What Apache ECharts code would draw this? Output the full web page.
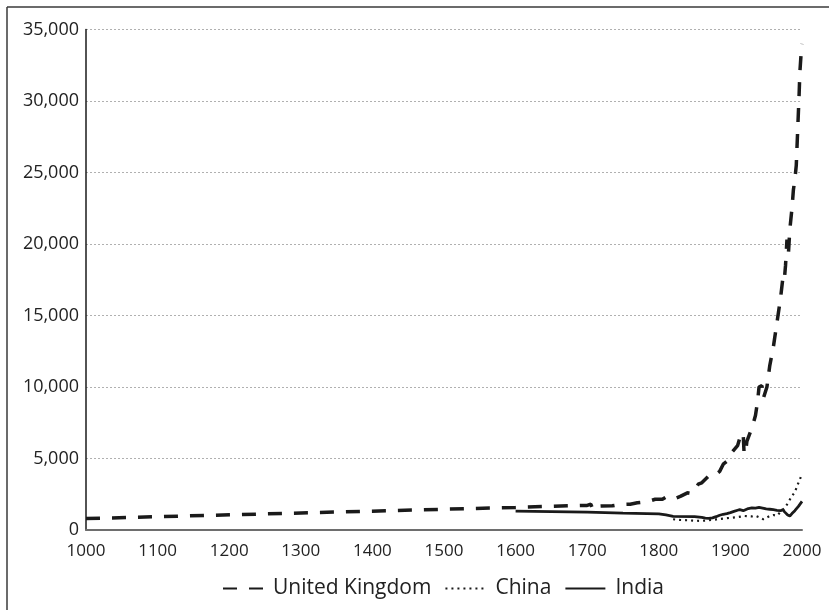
<!DOCTYPE html>
<html>
<head>
<meta charset="utf-8">
<script src="https://cdn.jsdelivr.net/npm/echarts@6/dist/echarts.min.js"></script>
<style>
html,body{margin:0;padding:0;background:#fff;}
#chart{width:829px;height:610px;}
</style>
</head>
<body>
<div id="chart"></div>
<script>
// ---- data ----
var seriesNames = ['United Kingdom', 'China', 'India'];
var yTicks = [0, 5000, 10000, 15000, 20000, 25000, 30000, 35000];

var ukYears = [1000, 1500, 1600, 1690, 1700, 1705, 1708, 1710, 1720, 1735, 1745, 1760, 1770, 1785, 1795, 1805, 1810, 1815, 1820, 1825, 1830, 1840, 1845, 1850, 1855, 1860, 1865, 1870, 1875, 1880, 1885, 1890, 1895, 1900, 1905, 1910, 1913, 1915, 1918, 1919, 1921, 1923, 1926, 1929, 1931, 1935, 1938, 1940, 1944, 1946, 1948, 1951, 1955, 1960, 1965, 1970, 1973, 1975, 1977, 1979, 1980, 1981, 1983, 1986, 1988, 1990, 1992, 1994, 1996, 1997, 1999, 2000];
var ukValues = [800, 1450, 1580, 1720, 1720, 1800, 1450, 1650, 1680, 1690, 1780, 1800, 1900, 1990, 2150, 2150, 2300, 2200, 2150, 2250, 2350, 2600, 2550, 2750, 3200, 3300, 3550, 3800, 3950, 3900, 4100, 4600, 4800, 5300, 5600, 5900, 6400, 6800, 6600, 5500, 5300, 6200, 6600, 7000, 7300, 8000, 9000, 10000, 10100, 9200, 9300, 10000, 11500, 12800, 14500, 16200, 17500, 17300, 18500, 20300, 19500, 19300, 21000, 22500, 23800, 24500, 25500, 28000, 30500, 32000, 33500, 34000];

var chinaYears = [1820, 1830, 1840, 1850, 1860, 1870, 1880, 1890, 1900, 1910, 1920, 1930, 1935, 1940, 1946, 1950, 1955, 1960, 1965, 1970, 1975, 1980, 1985, 1990, 1995, 2000];
var chinaValues = [750, 700, 680, 650, 640, 680, 740, 800, 850, 900, 980, 950, 1000, 900, 750, 850, 980, 1050, 1000, 1250, 1500, 1850, 2300, 2650, 3300, 3900];

var indiaYears = [1600, 1700, 1750, 1800, 1810, 1820, 1850, 1860, 1865, 1870, 1875, 1880, 1885, 1890, 1895, 1900, 1905, 1910, 1913, 1918, 1920, 1925, 1930, 1935, 1940, 1945, 1950, 1955, 1960, 1965, 1970, 1973, 1976, 1980, 1983, 1986, 1990, 1995, 2000];
var indiaValues = [1320, 1250, 1180, 1130, 1050, 950, 930, 880, 830, 820, 850, 930, 1030, 1100, 1150, 1220, 1300, 1380, 1420, 1350, 1420, 1500, 1550, 1530, 1580, 1530, 1480, 1450, 1420, 1380, 1350, 1420, 1250, 1050, 980, 1150, 1350, 1650, 2000];

function pairs(xs, ys) {
  var out = [];
  for (var i = 0; i < xs.length; i++) out.push([xs[i], ys[i]]);
  return out;
}

var FONT = '"Open Sans", "Noto Sans", sans-serif';
var chart = echarts.init(document.getElementById('chart'), null, {renderer: 'canvas'});
chart.setOption({
  animation: false,
  backgroundColor: '#ffffff',
  graphic: [
    {type: 'line', silent: true, shape: {x1: 7, y1: 7, x2: 829, y2: 7}, style: {stroke: '#3a3a3a', lineWidth: 1.5}},
    {type: 'line', silent: true, shape: {x1: 7, y1: 7, x2: 7, y2: 610}, style: {stroke: '#3a3a3a', lineWidth: 1.5}}
  ],
  grid: {left: 86, right: 27, top: 29.5, bottom: 80, containLabel: false},
  legend: {
    data: seriesNames,
    top: 573,
    left: 217,
    itemWidth: 40,
    itemHeight: 14,
    itemGap: 13,
    itemStyle: {opacity: 0, color: 'rgba(0,0,0,0)', borderWidth: 0},
    textStyle: {fontFamily: FONT, fontSize: 21, color: '#222', padding: [0, 0, 0, 5]}
  },
  xAxis: {
    type: 'value',
    min: 1000, max: 2000, interval: 100,
    axisLine: {show: true, lineStyle: {color: '#6e6e6e', width: 2}},
    axisTick: {show: false},
    splitLine: {show: false},
    axisLabel: {
      fontFamily: FONT, fontSize: 17, color: '#222', margin: 13,
      formatter: function (v) { return String(v); }
    }
  },
  yAxis: {
    type: 'value',
    min: yTicks[0], max: yTicks[yTicks.length - 1], interval: 5000,
    axisLine: {show: true, lineStyle: {color: '#1a1a1a', width: 1.5}},
    axisTick: {show: false},
    splitLine: {show: true, lineStyle: {color: '#b0b0b0', width: 1, type: [2, 2]}},
    axisLabel: {
      fontFamily: FONT, fontSize: 18, color: '#222', margin: 7,
      formatter: function (v) { return v.toLocaleString('en-US'); }
    }
  },
  series: [
    {
      name: seriesNames[0], type: 'line', symbol: 'none',
      data: pairs(ukYears, ukValues),
      lineStyle: {color: '#1a1a1a', width: 3.5, type: [14, 12]},
      itemStyle: {color: '#1a1a1a'}
    },
    {
      name: seriesNames[1], type: 'line', symbol: 'none',
      data: pairs(chinaYears, chinaValues),
      lineStyle: {color: '#1a1a1a', width: 2.2, type: [2, 4]},
      itemStyle: {color: '#1a1a1a'}
    },
    {
      name: seriesNames[2], type: 'line', symbol: 'none',
      data: pairs(indiaYears, indiaValues),
      lineStyle: {color: '#1a1a1a', width: 2.8, type: 'solid'},
      itemStyle: {color: '#1a1a1a'}
    }
  ]
});
</script>
</body>
</html>
